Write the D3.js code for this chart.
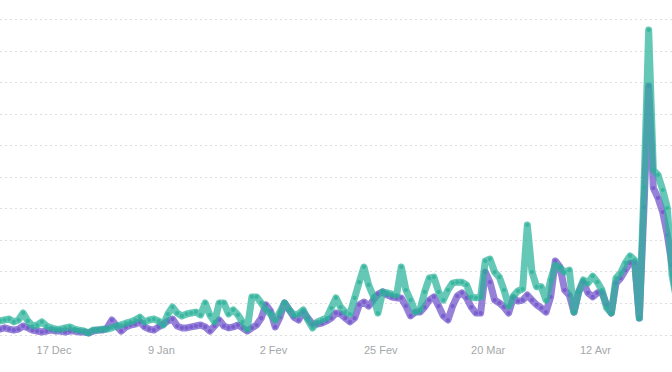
<!DOCTYPE html>
<html>
<head>
<meta charset="utf-8">
<script src="https://cdn.jsdelivr.net/npm/d3@7"></script>
<style>
  body { margin: 0; background: #fff; }
  .grid line { stroke: #dedede; stroke-width: 1; stroke-dasharray: 2,3; }
  .x-axis text { fill: #a3a8a8; font-family: "Liberation Sans", Arial, sans-serif; font-size: 11px; }
</style>
</head>
<body>
<div id="chart"></div>
<script>
var w = 672;
var h = 372;

// first day of the series, one value per day after that
var startDay = Date.UTC(2018, 11, 5);

var tealValues = [43, 46, 49, 40, 46, 68, 43, 27, 30, 40, 27, 21, 17, 17, 21, 24, 17, 14, 11, 5,
  14, 14, 17, 17, 21, 27, 30, 36, 40, 46, 55, 40, 46, 49, 43, 30, 65, 87, 68, 59,
  65, 68, 71, 62, 100, 62, 40, 100, 100, 65, 78, 62, 40, 17, 119, 119, 100, 78, 65, 46,
  71, 100, 78, 62, 65, 78, 46, 21, 40, 46, 52, 84, 116, 87, 71, 65, 116, 166, 214, 157,
  122, 68, 135, 132, 128, 125, 214, 141, 109, 71, 78, 135, 179, 182, 135, 109, 141, 163, 166, 166,
  157, 119, 116, 119, 233, 239, 198, 182, 141, 90, 122, 138, 144, 347, 198, 151, 151, 109, 173, 220,
  211, 198, 204, 71, 135, 173, 163, 185, 166, 141, 84, 68, 179, 195, 227, 249, 236, 52, 468, 965,
  521, 506, 458, 401, 189, 109];

var purpleValues = [17, 21, 17, 14, 17, 27, 21, 14, 11, 8, 11, 14, 11, 11, 8, 11, 11, 8, 8, 5,
  11, 14, 14, 21, 46, 27, 11, 24, 30, 33, 40, 24, 17, 14, 24, 33, 43, 49, 27, 21,
  21, 24, 27, 30, 24, 11, 27, 46, 27, 21, 24, 30, 21, 11, 21, 30, 52, 94, 74, 24,
  55, 100, 78, 55, 46, 71, 52, 33, 33, 36, 43, 52, 68, 65, 52, 40, 52, 94, 103, 90,
  109, 128, 135, 125, 119, 116, 116, 90, 59, 71, 71, 87, 109, 119, 90, 59, 46, 90, 122, 132,
  116, 87, 68, 68, 198, 166, 109, 100, 87, 68, 116, 106, 109, 125, 109, 94, 84, 71, 119, 233,
  214, 141, 125, 71, 135, 166, 132, 119, 132, 132, 94, 68, 163, 179, 204, 227, 227, 52, 404, 788,
  464, 433, 388, 315, 220, 109];

var tickDays = [Date.UTC(2018, 11, 17), Date.UTC(2019, 0, 9), Date.UTC(2019, 1, 2),
  Date.UTC(2019, 1, 25), Date.UTC(2019, 2, 20), Date.UTC(2019, 3, 12)];
var tickLabels = ["17 Dec", "9 Jan", "2 Fev", "25 Fev", "20 Mar", "12 Avr"];

var gridValues = [0, 100, 200, 300, 400, 500, 600, 700, 800, 900, 1000];

var DAY = 86400000;
function dayOf(i) { return new Date(startDay + i * DAY + DAY / 2); }

var svg = d3.select("#chart")
  .append("svg")
  .attr("width", w)
  .attr("height", h);

var xScale = d3.scaleUtc()
  .domain([new Date(tickDays[0]), new Date(tickDays[5])])
  .range([53.5, 595]);

var yScale = d3.scaleLinear()
  .domain([0, 1000])
  .range([334.5, 19]);

// dotted horizontal grid
svg.append("g")
  .attr("class", "grid")
  .selectAll("line")
  .data(gridValues)
  .enter()
  .append("line")
  .attr("x1", 0)
  .attr("x2", w)
  .attr("y1", function(d) { return Math.round(yScale(d)) + 0.5; })
  .attr("y2", function(d) { return Math.round(yScale(d)) + 0.5; });

var xAxis = d3.axisBottom(xScale)
  .tickValues(tickDays.map(function(d) { return new Date(d); }))
  .tickFormat(function(d, i) { return tickLabels[i]; })
  .tickSize(0)
  .tickPadding(12);

var gx = svg.append("g")
  .attr("class", "x-axis")
  .attr("transform", "translate(0,334)")
  .call(xAxis);
gx.select(".domain").remove();

var line = d3.line()
  .x(function(d, i) { return xScale(dayOf(i)); })
  .y(function(d) { return yScale(d); });

var series = [
  {name: "purple", values: purpleValues, color: "#6d50c9"},
  {name: "teal", values: tealValues, color: "#2ab199"}
];

series.forEach(function(s) {
  svg.append("path")
    .datum(s.values)
    .attr("fill", "none")
    .attr("stroke", s.color)
    .attr("stroke-opacity", 0.72)
    .attr("stroke-width", 7)
    .attr("stroke-linejoin", "round")
    .attr("stroke-linecap", "round")
    .attr("d", line);

  svg.append("g")
    .selectAll("circle")
    .data(s.values)
    .enter()
    .append("circle")
    .attr("cx", function(d, i) { return xScale(dayOf(i)); })
    .attr("cy", function(d) { return yScale(d); })
    .attr("r", 2.1)
    .attr("fill", s.color)
    .attr("fill-opacity", 0.7);
});
</script>
</body>
</html>
